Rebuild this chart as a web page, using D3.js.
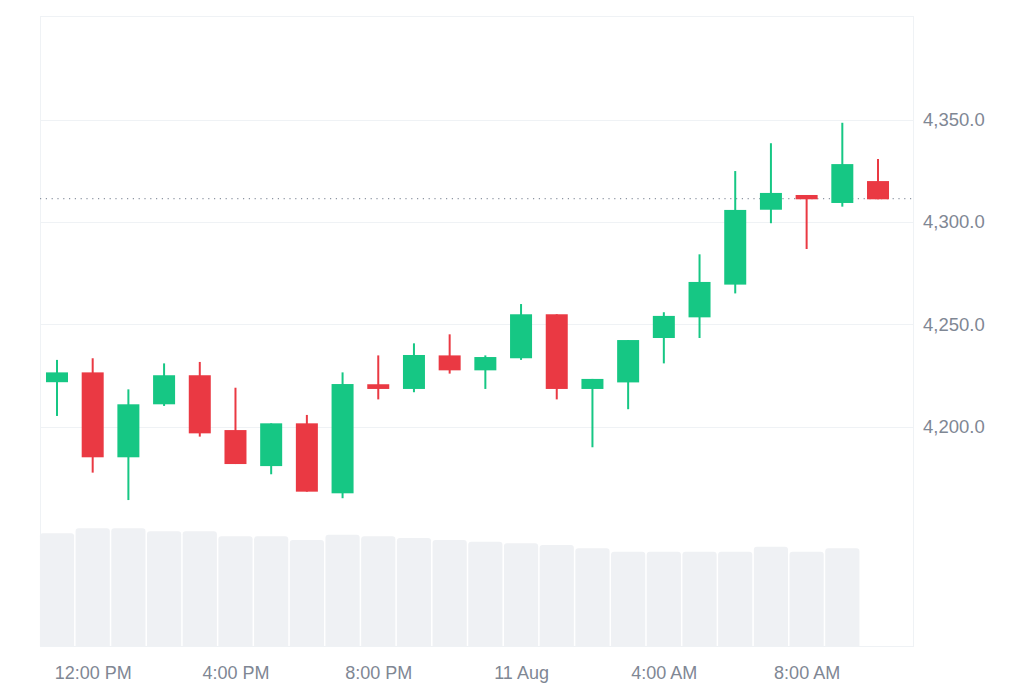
<!DOCTYPE html>
<html>
<head>
<meta charset="utf-8">
<script src="https://cdn.jsdelivr.net/npm/d3@7"></script>
<style>
  html, body { margin: 0; padding: 0; background: #ffffff; }
  svg { display: block; font-family: "Liberation Sans", Arial, sans-serif; }
</style>
</head>
<body>
<svg id="chart" width="1024" height="683"></svg>
<script>
// ---- Data (hourly candles, 10 Aug 11:00 -> 11 Aug 10:00) ----
const times = [
  "2025-08-10T11:00Z","2025-08-10T12:00Z","2025-08-10T13:00Z","2025-08-10T14:00Z",
  "2025-08-10T15:00Z","2025-08-10T16:00Z","2025-08-10T17:00Z","2025-08-10T18:00Z",
  "2025-08-10T19:00Z","2025-08-10T20:00Z","2025-08-10T21:00Z","2025-08-10T22:00Z",
  "2025-08-10T23:00Z","2025-08-11T00:00Z","2025-08-11T01:00Z","2025-08-11T02:00Z",
  "2025-08-11T03:00Z","2025-08-11T04:00Z","2025-08-11T05:00Z","2025-08-11T06:00Z",
  "2025-08-11T07:00Z","2025-08-11T08:00Z","2025-08-11T09:00Z","2025-08-11T10:00Z"
];
const open  = [4221.7,4226.5,4185.0,4210.9,4225.1,4198.3,4180.7,4201.6,4167.4,4220.7,4218.4,4234.8,
               4227.5,4233.4,4254.9,4218.4,4221.6,4243.3,4253.4,4269.4,4306.0,4313.2,4309.3,4320.0];
const high  = [4232.6,4233.4,4218.2,4230.9,4231.6,4219.0,4201.6,4205.7,4226.5,4234.8,4240.7,4245.1,
               4234.8,4259.9,4254.9,4223.3,4242.3,4255.9,4284.2,4324.9,4338.5,4313.2,4348.5,4330.8];
const low   = [4205.2,4177.5,4164.1,4210.1,4195.1,4181.7,4176.7,4168.2,4165.0,4213.3,4216.8,4225.9,
               4218.4,4232.6,4213.3,4189.9,4208.5,4230.9,4243.3,4265.1,4299.4,4286.8,4307.5,4311.1];
const close = [4226.5,4185.0,4210.9,4225.1,4196.7,4181.7,4201.6,4168.2,4220.8,4218.4,4235.0,4227.5,
               4234.0,4254.9,4218.4,4223.3,4242.3,4254.1,4270.7,4305.9,4314.2,4311.1,4328.3,4311.1];
const volume = [1127,1177,1177,1147,1147,1097,1097,1060,1113,1097,1080,1060,
                1043,1027,1010,977,943,943,943,943,993,943,977];
const priceTicks = [4200, 4250, 4300, 4350];
const timeTicks = ["2025-08-10T12:00Z","2025-08-10T16:00Z","2025-08-10T20:00Z",
                   "2025-08-11T00:00Z","2025-08-11T04:00Z","2025-08-11T08:00Z"];
const timeTickLabels = ["12:00 PM","4:00 PM","8:00 PM","11 Aug","4:00 AM","8:00 AM"];
const currentPrice = 4311.4;

// ---- Layout ----
const plot = { left: 40, right: 913, top: 16, bottom: 646 };
const HOUR = 3600 * 1000;
const dates = times.map(t => new Date(t));
const candles = dates.map((d, i) => ({ d, o: open[i], h: high[i], l: low[i], c: close[i], v: volume[i] }));

const x = d3.scaleUtc()
  .domain([new Date(+dates[0] - 0.476 * HOUR), new Date(+dates[dates.length - 1] + 0.98 * HOUR)])
  .range([plot.left, plot.right]);
const step = x(dates[1]) - x(dates[0]);

const y = d3.scaleLinear().domain([4200, 4350]).range([426.6, 119.7]);
const yVol = d3.scaleLinear().domain([0, 1200]).range([plot.bottom, plot.bottom - 120]);

const svg = d3.select("#chart");
const GREEN = "#16c784", RED = "#ea3943";
const TEXT = "#7f8794";

// frame
svg.append("rect")
  .attr("x", plot.left + 0.5).attr("y", plot.top + 0.5)
  .attr("width", plot.right - plot.left).attr("height", plot.bottom - plot.top)
  .attr("fill", "none").attr("stroke", "#eff2f5").attr("stroke-width", 1);

// grid lines
svg.append("g").selectAll("line").data(priceTicks).join("line")
  .attr("x1", plot.left).attr("x2", plot.right)
  .attr("y1", d => Math.round(y(d)) + 0.5).attr("y2", d => Math.round(y(d)) + 0.5)
  .attr("stroke", "#eff2f5").attr("stroke-width", 1);

// volume bars
const vw = step - 1.5;
svg.append("g").selectAll("path").data(candles.filter(c => c.v != null)).join("path")
  .attr("d", c => {
    const x0 = x(c.d) - vw / 2, x1 = x(c.d) + vw / 2;
    const y0 = yVol(c.v), y1 = yVol(0), r = 3;
    return `M${x0},${y1}L${x0},${y0 + r}Q${x0},${y0} ${x0 + r},${y0}L${x1 - r},${y0}Q${x1},${y0} ${x1},${y0 + r}L${x1},${y1}Z`;
  })
  .attr("fill", "#eff1f4");

// current price dotted line
svg.append("line")
  .attr("x1", plot.left).attr("x2", plot.right)
  .attr("y1", y(currentPrice)).attr("y2", y(currentPrice))
  .attr("stroke", "#8e96a3").attr("stroke-width", 1.2)
  .attr("stroke-dasharray", "1.2,4.6");

// candles
const bw = 22;
const cg = svg.append("g").selectAll("g").data(candles).join("g");
cg.append("line")
  .attr("x1", c => x(c.d)).attr("x2", c => x(c.d))
  .attr("y1", c => y(c.h)).attr("y2", c => y(c.l))
  .attr("stroke", c => c.c >= c.o ? GREEN : RED).attr("stroke-width", 2);
cg.append("rect")
  .attr("x", c => x(c.d) - bw / 2).attr("width", bw)
  .attr("y", c => y(Math.max(c.o, c.c)))
  .attr("height", c => Math.max(2, Math.abs(y(c.o) - y(c.c))))
  .attr("fill", c => c.c >= c.o ? GREEN : RED);

// right price axis
const fmt = d3.format(",.1f");
const yAxis = d3.axisRight(y).tickValues(priceTicks).tickFormat(fmt).tickSize(0).tickPadding(10);
const ya = svg.append("g").attr("transform", `translate(${plot.right},0)`).call(yAxis);
ya.select(".domain").remove();
ya.selectAll("text").attr("fill", TEXT).attr("font-size", 18.5)
  .attr("font-family", "'Liberation Sans', Arial, sans-serif");

// bottom time axis
const tickDates = timeTicks.map(t => new Date(t));
const xAxis = d3.axisBottom(x).tickValues(tickDates)
  .tickFormat((d, i) => timeTickLabels[i]).tickSize(0).tickPadding(20);
const xa = svg.append("g").attr("transform", `translate(0,${plot.bottom})`).call(xAxis);
xa.select(".domain").remove();
xa.selectAll("text").attr("fill", TEXT).attr("font-size", 18)
  .attr("font-family", "'Liberation Sans', Arial, sans-serif");
</script>
</body>
</html>
